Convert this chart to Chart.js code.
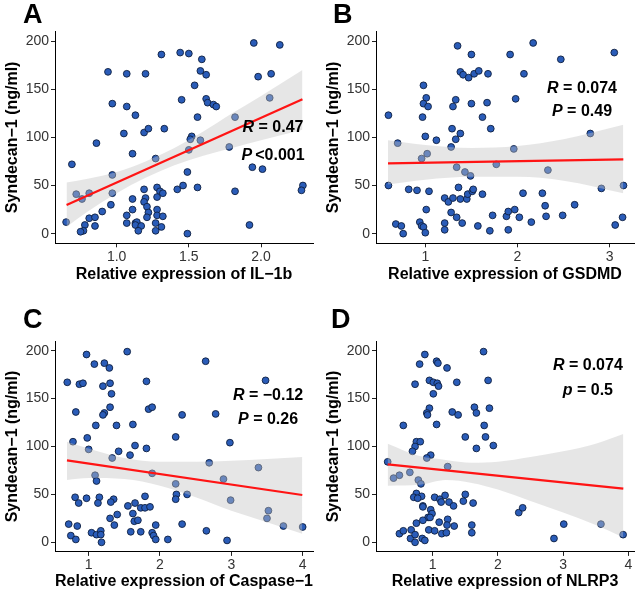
<!DOCTYPE html>
<html>
<head>
<meta charset="utf-8">
<script src="https://cdn.jsdelivr.net/npm/chart.js@4.4.1/dist/chart.umd.min.js"></script>
<style>
  body { margin: 0; background: #fff; }
  #wrap { position: relative; width: 642px; height: 600px; }
  canvas { position: absolute; }
</style>
</head>
<body>
<div id="wrap">
  <canvas id="panelA" width="321" height="300" style="left:0;top:0"></canvas>
  <canvas id="panelB" width="321" height="300" style="left:321px;top:0"></canvas>
  <canvas id="panelC" width="321" height="300" style="left:0;top:300px"></canvas>
  <canvas id="panelD" width="321" height="300" style="left:321px;top:300px"></canvas>
</div>
<script>
const FONT = '"Liberation Sans", Arial, sans-serif';
const yTicks = [0, 50, 100, 150, 200];

// Panel A - IL-1b
const aX = [0.86, 0.94, 0.97, 1.07, 1.07, 1.13, 1.05, 1.19, 1.22, 1.20, 1.31, 1.33, 1.44, 1.50, 1.59, 1.45, 1.54, 1.58, 1.62, 1.62, 1.63, 1.67, 1.69, 1.56, 1.52, 1.51, 1.58, 1.82, 1.78, 1.95, 2.13, 1.98, 2.07, 2.06, 1.50,
  0.69, 0.65, 0.72, 0.76, 0.81, 0.97, 0.97, 0.96, 0.90, 0.81, 0.85, 0.85, 0.78, 0.77, 0.75, 1.11, 1.27, 1.19, 1.11, 1.20, 1.19, 1.21, 1.11, 1.07, 1.07, 1.13, 1.14, 1.13, 1.17, 1.15, 1.22, 1.21, 1.28, 1.30, 1.28, 1.32, 1.28, 1.28, 1.27, 1.32, 1.31, 1.27, 1.42, 1.46, 1.49, 1.56, 1.49, 1.94, 2.01, 1.82, 1.92, 2.29, 2.28];
const aY = [94, 168, 135, 166, 132, 123, 104, 105, 109, 166, 186, 109, 188, 187, 181, 139, 154, 169, 165, 140, 136, 134, 132, 121, 101, 98, 97, 121, 90, 198, 196, 163, 166, 141, 87,
  72, 12, 41, 36, 42, 61, 42, 30, 23, 16, 17, 8, 9, 3, 2, 83, 78, 46, 36, 37, 33, 28, 25, 19, 11, 11, 12, 9, 8, 3, 22, 17, 48, 44, 38, 42, 25, 19, 11, 18, 7, 3, 46, 50, 64, 48, 0, 69, 67, 44, 9, 50, 45];
const aTicks = [1.0, 1.5, 2.0];
const aLineX = [0.653, 2.287];
const aLineY = [29.8, 139.5];
const aBandX = [0.653, 0.8, 1.0, 1.2, 1.4, 1.6, 1.8, 2.0, 2.287];
const aBandUp = [53, 57, 64, 75, 89, 106, 125, 143, 170];
const aBandLo = [7, 23, 42, 58, 71, 81, 89, 97, 108];

// Panel B - GSDMD
const bX = [0.60, 0.70, 0.98, 1.01, 0.98, 1.03, 0.97, 1.00, 1.12, 1.35, 1.33, 1.30, 1.29, 1.33, 1.38, 1.28, 1.38, 1.41, 1.47, 1.53, 1.58, 1.50, 1.50, 1.67, 1.62, 1.68, 1.71, 1.92, 1.98, 2.07, 2.17, 2.47, 3.05, 2.79, 1.96,
  0.60, 0.96, 1.02, 1.34, 1.43, 1.49, 1.77, 2.33, 2.91, 3.15, 0.82, 0.91, 1.04, 0.68, 0.74, 0.76, 0.94, 0.96, 0.98, 1.00, 1.01, 1.21, 1.25, 1.30, 1.36, 1.38, 1.45, 1.46, 1.51, 1.52, 1.62, 1.28, 1.21, 1.21, 1.34, 1.40, 1.57, 1.70, 1.73, 1.88, 1.90, 1.97, 1.90, 2.02, 2.06, 2.15, 2.27, 2.30, 2.31, 2.49, 2.62, 3.06, 3.14];
const bY = [123, 94, 154, 141, 135, 132, 121, 101, 97, 195, 139, 132, 109, 98, 104, 90, 168, 165, 162, 166, 169, 186, 135, 136, 121, 166, 109, 186, 140, 166, 198, 181, 188, 104, 88,
  50, 78, 83, 69, 64, 60, 72, 66, 47, 50, 46, 45, 44, 10, 8, 0, 12, 8, 7, 1, 25, 37, 33, 37, 48, 36, 36, 41, 44, 46, 41, 22, 11, 4, 17, 11, 8, 3, 19, 18, 23, 25, 4, 17, 42, 12, 42, 29, 18, 19, 30, 9, 17];
const bTicks = [1, 2, 3];
const bLineX = [0.595, 3.148];
const bLineY = [73, 77.2];
const bBandX = [0.595, 1.0, 1.5, 2.0, 2.5, 3.148];
const bBandUp = [97, 92, 89, 91, 98, 113];
const bBandLo = [51, 56, 59, 59, 55, 42];

// Panel C - Caspase-1
const cX = [0.70, 0.97, 1.08, 1.22, 1.29, 0.87, 0.92, 1.20, 1.30, 1.32, 0.82, 1.30, 1.22, 1.20, 1.10, 1.39, 1.62, 0.98, 1.54, 1.81, 1.84, 1.89, 2.31, 2.64, 2.78, 3.48, 2.22, 2.98, 0.78, 1.65, 1.81, 1.42,
  1.00, 1.58, 1.33, 2.69, 3.38, 1.09, 1.11, 1.89, 2.22, 2.89, 2.99, 2.38, 2.23, 2.22, 3.52, 3.50, 3.73, 4.00, 0.81, 0.86, 0.97, 1.15, 1.13, 1.35, 1.31, 0.72, 0.75, 0.82, 0.84, 1.04, 1.11, 1.17, 1.17, 1.18, 1.30, 1.36, 1.40, 1.55, 1.62, 1.65, 1.64, 1.69, 1.59, 1.73, 1.79, 1.86, 1.79, 1.73, 1.89, 1.91, 1.94, 1.94, 2.11, 2.31, 2.65, 2.94];
const cY = [167, 196, 186, 187, 182, 165, 166, 163, 166, 155, 136, 141, 135, 133, 122, 122, 123, 109, 199, 168, 139, 141, 133, 189, 134, 169, 110, 104, 105, 101, 98, 95,
  97, 91, 88, 83, 78, 70, 64, 72, 61, 66, 44, 50, 50, 45, 33, 25, 17, 16, 47, 41, 46, 47, 41, 45, 42, 19, 7, 3, 17, 10, 8, 12, 8, 0, 25, 18, 29, 38, 30, 41, 22, 23, 11, 36, 36, 37, 48, 11, 10, 7, 18, 3, 3, 19, 12, 2];
const cTicks = [1, 2, 3, 4];
const cLineX = [0.696, 3.995];
const cLineY = [85.6, 49.4];
const cBandX = [0.696, 1.0, 1.5, 2.0, 2.5, 3.0, 3.5, 3.995];
const cBandUp = [105, 98, 88, 84, 84, 85, 87, 89];
const cBandLo = [65, 67, 66, 59, 47, 33, 21, 9];

// Panel D - NLRP3
const dX = [0.55, 0.73, 0.80, 0.88, 1.06, 1.08, 0.95, 1.01, 1.07, 1.09, 1.01, 1.22, 1.37, 0.95, 0.91, 0.92, 1.06, 1.30, 1.39, 1.64, 1.67, 1.87, 1.79, 1.78, 1.85, 1.50, 1.81, 1.93, 1.67, 0.75, 0.81, 0.73,
  0.69, 0.97, 0.91, 0.31, 1.23, 0.65, 0.49, 0.40, 0.78, 0.82, 0.75, 0.71, 0.83, 0.77, 0.85, 0.85, 1.03, 1.11, 1.13, 1.19, 1.25, 1.32, 0.97, 0.99, 0.93, 0.96, 0.85, 0.75, 1.10, 1.23, 1.22, 1.33, 0.94, 1.03, 1.14, 1.21, 0.49, 0.55, 0.67, 0.66, 0.73, 0.73, 0.84, 0.88, 1.47, 1.50, 1.62, 1.60, 1.60, 2.32, 2.38, 2.86, 3.01, 3.58, 3.92];
const dY = [122, 165, 186, 196, 189, 187, 169, 167, 166, 163, 155, 182, 167, 140, 135, 133, 123, 136, 133, 141, 135, 140, 122, 199, 169, 110, 110, 101, 98, 105, 105, 100,
  95, 91, 88, 84, 79, 73, 70, 67, 65, 61, 51, 47, 48, 46, 38, 37, 47, 45, 42, 49, 42, 38, 34, 30, 26, 26, 23, 20, 21, 24, 18, 17, 13, 12, 9, 10, 9, 12, 13, 4, 8, 0, 4, 2, 43, 50, 41, 18, 10, 31, 36, 4, 19, 19, 8];
const dTicks = [1, 2, 3, 4];
const dLineX = [0.31, 3.923];
const dLineY = [81.4, 56];
const dBandX = [0.31, 0.8, 1.2, 1.6, 2.0, 2.5, 3.0, 3.5, 3.923];
const dBandUp = [103, 90, 86, 83, 84, 89, 95, 103, 113];
const dBandLo = [59, 60, 65, 62, 55, 43, 31, 18, 5];

function pts(xs, ys) {
  return xs.map((x, i) => ({ x: x, y: ys[i] }));
}

function drawStat(ctx, name, rest, cx, cy) {
  ctx.font = 'italic bold 16px ' + FONT;
  const w1 = ctx.measureText(name).width;
  ctx.font = 'bold 16px ' + FONT;
  const w2 = ctx.measureText(rest).width;
  const x0 = cx - (w1 + w2) / 2;
  ctx.font = 'italic bold 16px ' + FONT;
  ctx.fillText(name, x0, cy);
  ctx.font = 'bold 16px ' + FONT;
  ctx.fillText(rest, x0 + w1, cy);
}

// panel letter + R / P annotation
const notes = {
  id: 'notes',
  afterDraw(chart, args, o) {
    const ctx = chart.ctx;
    ctx.save();
    ctx.fillStyle = '#000';
    ctx.textAlign = 'left';
    ctx.textBaseline = 'alphabetic';
    ctx.font = 'bold 27px ' + FONT;
    ctx.fillText(o.letter, o.letterX, o.letterY);
    ctx.textBaseline = 'middle';
    const cx = chart.scales.x.getPixelForValue(o.noteX);
    drawStat(ctx, o.rName, o.rText, cx, chart.scales.y.getPixelForValue(o.rY));
    drawStat(ctx, o.pName, o.pText, cx, chart.scales.y.getPixelForValue(o.pY));
    ctx.restore();
  }
};

function makePanel(id, p) {
  new Chart(document.getElementById(id).getContext('2d'), {
    type: 'scatter',
    data: {
      datasets: [
        {
          type: 'line',
          data: pts(p.lineX, p.lineY),
          borderColor: '#ff1414',
          borderWidth: 2.2,
          pointRadius: 0,
          order: 0,
        },
        {
          type: 'line',
          data: pts(p.bandX, p.bandUp),
          borderWidth: 0,
          borderColor: 'rgba(0,0,0,0)',
          backgroundColor: 'rgba(195,195,195,0.42)',
          pointRadius: 0,
          fill: '+1',
          cubicInterpolationMode: 'monotone',
          order: 1,
        },
        {
          type: 'line',
          data: pts(p.bandX, p.bandLo),
          borderWidth: 0,
          borderColor: 'rgba(0,0,0,0)',
          pointRadius: 0,
          fill: false,
          cubicInterpolationMode: 'monotone',
          order: 1,
        },
        {
          data: pts(p.xs, p.ys),
          backgroundColor: '#2a5cb8',
          borderColor: '#0f1f40',
          borderWidth: 0.9,
          pointRadius: 3.4,
          order: 2,
        },
      ],
    },
    options: {
      responsive: false,
      animation: false,
      layout: { padding: { top: p.top, right: 8, bottom: 0, left: 0 } },
      plugins: {
        legend: { display: false },
        tooltip: { enabled: false },
        notes: p.notes,
      },
      scales: {
        x: {
          type: 'linear',
          min: p.xMin,
          max: p.xMax,
          afterBuildTicks: (s) => { s.ticks = p.ticks.map((v) => ({ value: v })); },
          afterFit: (s) => { s.height = p.bottomH; },
          ticks: {
            padding: 1,
            color: '#333',
            font: { size: 14, family: FONT },
            maxRotation: 0,
            autoSkip: false,
            callback: (v) => v.toFixed(p.digits),
          },
          grid: { drawOnChartArea: false, tickLength: 4, color: '#222' },
          border: { color: '#000', width: 1 },
          title: {
            display: true,
            text: p.xTitle,
            color: '#000',
            font: { size: 16, weight: 'bold', family: FONT },
            padding: { top: 0, bottom: p.titlePad },
          },
        },
        y: {
          min: -10,
          max: 210,
          afterBuildTicks: (s) => { s.ticks = yTicks.map((v) => ({ value: v })); },
          afterFit: (s) => { s.width = 55; },
          ticks: { padding: 2, color: '#333', font: { size: 14, family: FONT } },
          grid: { drawOnChartArea: false, tickLength: 4, color: '#222' },
          border: { color: '#000', width: 1 },
          title: {
            display: true,
            text: 'Syndecan\u22121 (ng/ml)',
            color: '#000',
            font: { size: 16, weight: 'bold', family: FONT },
            padding: { top: 3, bottom: 0 },
          },
        },
      },
    },
    plugins: [notes],
  });
}

document.addEventListener('DOMContentLoaded', function () {
  makePanel('panelA', {
    xs: aX, ys: aY, ticks: aTicks, digits: 1,
    lineX: aLineX, lineY: aLineY, bandX: aBandX, bandUp: aBandUp, bandLo: aBandLo,
    xMin: 0.573, xMax: 2.36, top: 31.4, bottomH: 56.7, titlePad: 15.4,
    xTitle: 'Relative expression of IL\u22121b',
    notes: { letter: 'A', letterX: 23, letterY: 23, noteX: 2.083, rY: 109.7, pY: 80.6,
      rName: 'R', rText: ' = 0.47', pName: 'P', pText: '\u2009<0.001' },
  });
  makePanel('panelB', {
    xs: bX, ys: bY, ticks: bTicks, digits: 0,
    lineX: bLineX, lineY: bLineY, bandX: bBandX, bandUp: bBandUp, bandLo: bBandLo,
    xMin: 0.465, xMax: 3.264, top: 31.4, bottomH: 56.7, titlePad: 15.4,
    xTitle: 'Relative expression of GSDMD',
    notes: { letter: 'B', letterX: 12, letterY: 23, noteX: 2.70, rY: 150.2, pY: 126.3,
      rName: 'R', rText: ' = 0.074', pName: 'P', pText: ' = 0.49' },
  });
  makePanel('panelC', {
    xs: cX, ys: cY, ticks: cTicks, digits: 0,
    lineX: cLineX, lineY: cLineY, bandX: cBandX, bandUp: cBandUp, bandLo: cBandLo,
    xMin: 0.528, xMax: 4.145, top: 41.1, bottomH: 48.1, titlePad: 8.7,
    xTitle: 'Relative expression of Caspase\u22121',
    notes: { letter: 'C', letterX: 23, letterY: 28, noteX: 3.515, rY: 152.7, pY: 127.7,
      rName: 'R', rText: ' = \u22120.12', pName: 'P', pText: ' = 0.26' },
  });
  makePanel('panelD', {
    xs: dX, ys: dY, ticks: dTicks, digits: 0,
    lineX: dLineX, lineY: dLineY, bandX: dBandX, bandUp: dBandUp, bandLo: dBandLo,
    xMin: 0.131, xMax: 4.087, top: 41.1, bottomH: 48.1, titlePad: 8.7,
    xTitle: 'Relative expression of NLRP3',
    notes: { letter: 'D', letterX: 10, letterY: 28, noteX: 3.38, rY: 184, pY: 158,
      rName: 'R', rText: ' = 0.074', pName: 'p', pText: ' = 0.5' },
  });
});
</script>
</body>
</html>
